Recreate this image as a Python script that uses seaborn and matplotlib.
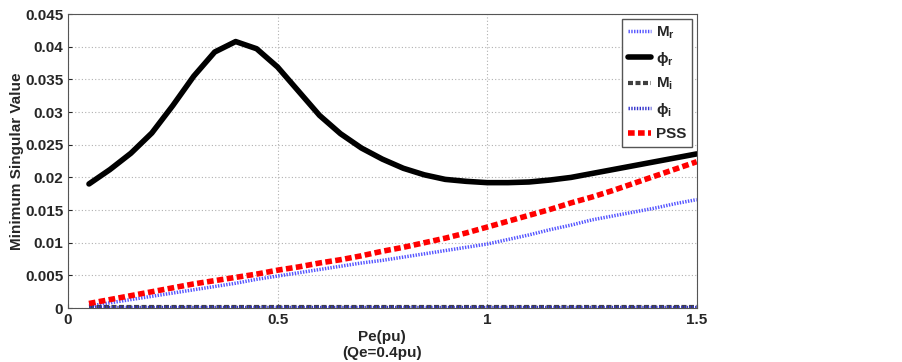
import seaborn as sns
import matplotlib.pyplot as plt
import numpy as np
import pandas as pd

# Pe (pu), Qe = 0.4 pu
pe = np.round(np.arange(1, 31) * 0.05, 2)

m_r = [0.0003, 0.0008, 0.0013, 0.0018, 0.0023, 0.0028, 0.0033, 0.0038, 0.0044, 0.0049,
       0.0054, 0.0059, 0.0064, 0.0069, 0.0073, 0.0078, 0.0083, 0.0088, 0.0093, 0.0098,
       0.0105, 0.0112, 0.0120, 0.0127, 0.0135, 0.0141, 0.0147, 0.0153, 0.0160, 0.0166]
phi_r = [0.0190, 0.0212, 0.0237, 0.0268, 0.0310, 0.0355, 0.0392, 0.0408, 0.0397, 0.0369,
         0.0332, 0.0295, 0.0267, 0.0245, 0.0228, 0.0214, 0.0204, 0.0197, 0.0194, 0.0192,
         0.0192, 0.0193, 0.0196, 0.0200, 0.0206, 0.0212, 0.0218, 0.0224, 0.0230, 0.0236]
m_i = [0.0001] * 30
phi_i = [0.0001] * 30
pss = [0.0007, 0.0013, 0.0019, 0.0025, 0.0031, 0.0037, 0.0042, 0.0047, 0.0052, 0.0058,
       0.0063, 0.0069, 0.0074, 0.0080, 0.0087, 0.0093, 0.0100, 0.0107, 0.0115, 0.0124,
       0.0133, 0.0142, 0.0151, 0.0161, 0.0170, 0.0180, 0.0191, 0.0202, 0.0213, 0.0224]

sns.set_style("ticks")
plt.rcParams['font.family'] = ['Liberation Sans', 'DejaVu Sans']
plt.rcParams['font.weight'] = 'bold'
plt.rcParams['mathtext.default'] = 'regular'

fig = plt.figure(figsize=(9.02, 3.62), dpi=100)
ax = fig.add_axes([0.0754, 0.149, 0.697, 0.812])

series = [
    (m_r, r'M$_r$', '#5555ff', (0, (0.4, 0.4)), 2.5),
    (phi_r, r'ϕ$_r$', 'black', '-', 4),
    (m_i, r'M$_i$', '#404040', (0, (1.2, 0.6)), 3),
    (phi_i, r'ϕ$_i$', '#3333cc', (0, (0.4, 0.4)), 2.5),
    (pss, 'PSS', 'red', (0, (1.2, 0.6)), 4),
]
for vals, lab, col, ls, lw in series:
    sns.lineplot(x=pe, y=vals, ax=ax, color=col, linestyle=ls, linewidth=lw, label=lab)

ax.set_xlim(0, 1.5)
ax.set_ylim(0, 0.045)
ax.set_xticks([0, 0.5, 1, 1.5])
ax.set_xticklabels(['0', '0.5', '1', '1.5'])
ax.set_yticks(np.arange(0, 0.0451, 0.005))
ax.set_yticklabels(['0', '0.005', '0.01', '0.015', '0.02', '0.025', '0.03', '0.035', '0.04', '0.045'])
ax.tick_params(direction='in', labelsize=11, length=3)
for lbl in ax.get_xticklabels() + ax.get_yticklabels():
    lbl.set_fontweight('bold')
ax.grid(True, linestyle=(0, (1, 2)), color='#b0b0b0', linewidth=0.8)
for sp in ax.spines.values():
    sp.set_visible(True)
    sp.set_color('#555555')

ax.set_xlabel('Pe(pu)\n(Qe=0.4pu)', fontsize=11, fontweight='bold', labelpad=2)
ax.set_ylabel('Minimum Singular Value', fontsize=11, fontweight='bold', labelpad=1)

leg = ax.legend(loc='upper right', fontsize=11, handlelength=1.5, fancybox=False,
                framealpha=1, edgecolor='#555555', borderaxespad=0.3, labelspacing=0.55,
                handletextpad=0.3, borderpad=0.4)
for t in leg.get_texts():
    t.set_fontweight('bold')

plt.savefig('out.png', dpi=100)
